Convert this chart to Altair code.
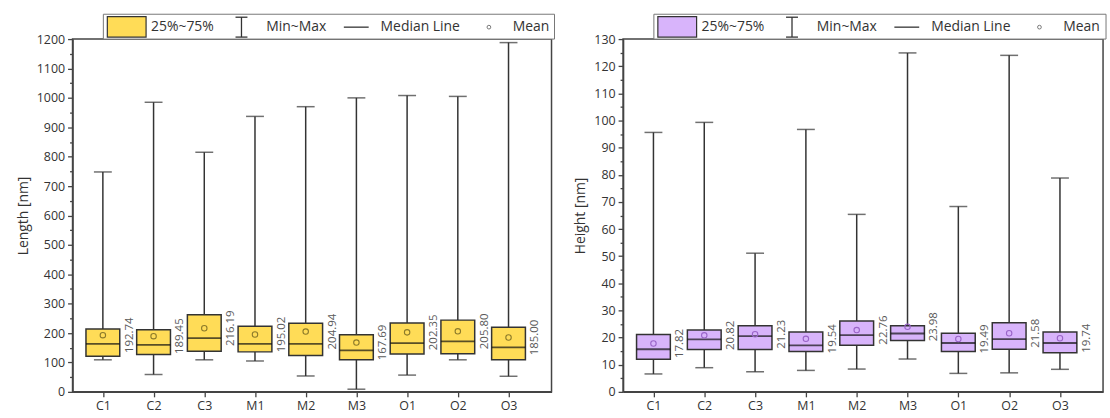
import altair as alt
import pandas as pd

# Categories shared by both panels
cats = ["C1", "C2", "C3", "M1", "M2", "M3", "O1", "O2", "O3"]

# Length [nm] statistics per category
len_min = [109, 59, 109, 105, 54, 9, 57, 109, 53]
len_q1 = [121, 127, 138, 136, 124, 109, 129, 130, 109]
len_med = [163, 160, 183, 163, 163, 141, 166, 172, 151]
len_q3 = [214, 211, 262, 223, 233, 194, 234, 244, 220]
len_max = [748, 985, 815, 937, 970, 1000, 1008, 1005, 1188]
len_mean = [192.74, 189.45, 216.19, 195.02, 204.94, 167.69, 202.35, 205.80, 185.00]

# Height [nm] statistics per category
h_min = [6.6, 8.9, 7.4, 7.9, 8.4, 12.1, 6.8, 7.0, 8.3]
h_q1 = [12.0, 15.6, 15.6, 14.9, 17.2, 18.9, 14.9, 15.7, 14.4]
h_med = [15.7, 19.3, 20.5, 17.1, 20.9, 21.5, 18.0, 19.4, 18.0]
h_q3 = [21.1, 22.8, 24.4, 22.1, 26.1, 24.4, 21.6, 25.5, 22.1]
h_max = [95.6, 99.3, 51.1, 96.7, 65.4, 124.9, 68.3, 124.0, 78.8]
h_mean = [17.82, 20.82, 21.23, 19.54, 22.76, 23.98, 19.49, 21.58, 19.74]

FONT = "Open Sans"
INK = "#333333"


def frame(mn, q1, med, q3, mx, mean):
    return pd.DataFrame({
        "cat": cats,
        "i": list(range(1, len(cats) + 1)),
        "lo": mn, "q1": q1, "med": med, "q3": q3, "hi": mx, "mean": mean,
    })


def panel(df, ymax, step, title, fill, mean_color, w, h):
    label_expr = "[" + ",".join(f"'{c}'" for c in cats) + "][datum.value - 1]"
    xenc = alt.X(
        "i:Q",
        scale=alt.Scale(domain=[0.5, 9.75], nice=False, zero=False),
        axis=alt.Axis(values=list(range(1, len(cats) + 1)), labelExpr=label_expr,
                      title=None, grid=False, tickSize=5, labelPadding=3),
    )
    yscale = alt.Scale(domain=[0, ymax], nice=False, zero=True)
    major = alt.Axis(values=list(range(0, ymax + 1, step)), format="d", tickSize=5,
                     grid=False, title=title, orient="left", labelPadding=3,
                     titlePadding=6)
    minor = alt.Axis(values=[v + step / 2 for v in range(0, ymax, step)], tickSize=3,
                     labels=False, domain=False, grid=False, title=None, orient="left")

    base = alt.Chart(df)
    whisk_lo = base.mark_rule(color=INK, strokeWidth=1.5).encode(
        x=xenc, y=alt.Y("lo:Q", scale=yscale, axis=minor), y2="q1:Q")
    whisk_hi = base.mark_rule(color=INK, strokeWidth=1.5).encode(
        x=xenc, y=alt.Y("q3:Q", scale=yscale, axis=None), y2="hi:Q")
    cap_lo = base.mark_tick(orient="horizontal", size=18, thickness=1.5, color=INK).encode(
        x=xenc, y=alt.Y("lo:Q", scale=yscale, axis=None))
    cap_hi = base.mark_tick(orient="horizontal", size=18, thickness=1.5, color=INK).encode(
        x=xenc, y=alt.Y("hi:Q", scale=yscale, axis=None))
    box = base.mark_bar(size=34, fill=fill, stroke=INK, strokeWidth=1.5).encode(
        x=xenc, y=alt.Y("q1:Q", scale=yscale, axis=major), y2="q3:Q")
    median = base.mark_tick(orient="horizontal", size=34, thickness=1.8, color="#111").encode(
        x=xenc, y=alt.Y("med:Q", scale=yscale, axis=None))
    mean = base.mark_point(shape="circle", filled=False, size=30, color=mean_color,
                           strokeWidth=1.1, opacity=1).encode(
        x=xenc, y=alt.Y("mean:Q", scale=yscale, axis=None))
    labels = base.mark_text(angle=270, dy=27, align="center", baseline="middle",
                            fontSize=11.5, font=FONT, color="#5a5a5a").encode(
        x=xenc, y=alt.Y("mean:Q", scale=yscale, axis=None),
        text=alt.Text("mean:Q", format=".2f"))

    # Key drawn above the plot frame
    one = alt.Chart(alt.Data(values=[{"k": 1}]))
    ly = -12
    key = [
        one.mark_rect(fill="white", stroke="#777777", strokeWidth=1).encode(
            x=alt.value(31), x2=alt.value(w + 3), y=alt.value(-25), y2=alt.value(0)),
        one.mark_rect(fill=fill, stroke=INK, strokeWidth=1.2).encode(
            x=alt.value(35), x2=alt.value(74), y=alt.value(-22.5), y2=alt.value(-2)),
        one.mark_rule(color=INK, strokeWidth=1.3).encode(
            x=alt.value(170), y=alt.value(-22), y2=alt.value(-2)),
        one.mark_rule(color=INK, strokeWidth=1.3).encode(
            x=alt.value(164), x2=alt.value(176), y=alt.value(-22)),
        one.mark_rule(color=INK, strokeWidth=1.3).encode(
            x=alt.value(164), x2=alt.value(176), y=alt.value(-2)),
        one.mark_rule(color=INK, strokeWidth=1.3).encode(
            x=alt.value(273), x2=alt.value(298), y=alt.value(ly)),
        one.mark_point(shape="circle", filled=False, size=14, color="#777777",
                       strokeWidth=1, opacity=1).encode(
            x=alt.value(419), y=alt.value(ly)),
    ]
    for xpos, txt in [(79, "25%~75%"), (195, "Min~Max"), (310, "Median Line"), (443, "Mean")]:
        key.append(one.mark_text(align="left", baseline="middle", fontSize=14, font=FONT,
                                 color=INK).encode(
            x=alt.value(xpos), y=alt.value(ly), text=alt.value(txt)))

    layered = alt.layer(whisk_lo, whisk_hi, cap_lo, cap_hi, box, median, mean, labels, *key)
    return layered.resolve_axis(y="independent").properties(width=w, height=h)


left = panel(frame(len_min, len_q1, len_med, len_q3, len_max, len_mean),
             1200, 100, "Length [nm]", "#FFDC57", "#8C7A2A", 482, 355)
right = panel(frame(h_min, h_q1, h_med, h_q3, h_max, h_mean),
              130, 10, "Height [nm]", "#D8B4FB", "#9A64C8", 483, 355)

chart = alt.hconcat(left, right, spacing=16).properties(
    padding={"left": 15, "top": 11, "right": 2, "bottom": 5}
).configure(font=FONT).configure_view(
    stroke="#444444", strokeWidth=1.5
).configure_axis(
    domainColor="#444444", domainWidth=1.5, tickColor="#444444", tickWidth=1.3,
    labelColor=INK, labelFont=FONT, labelFontSize=12.5,
    titleColor=INK, titleFont=FONT, titleFontSize=14, titleFontWeight="normal",
)

chart.save("out.html", embed_options={"renderer": "svg", "actions": False})
